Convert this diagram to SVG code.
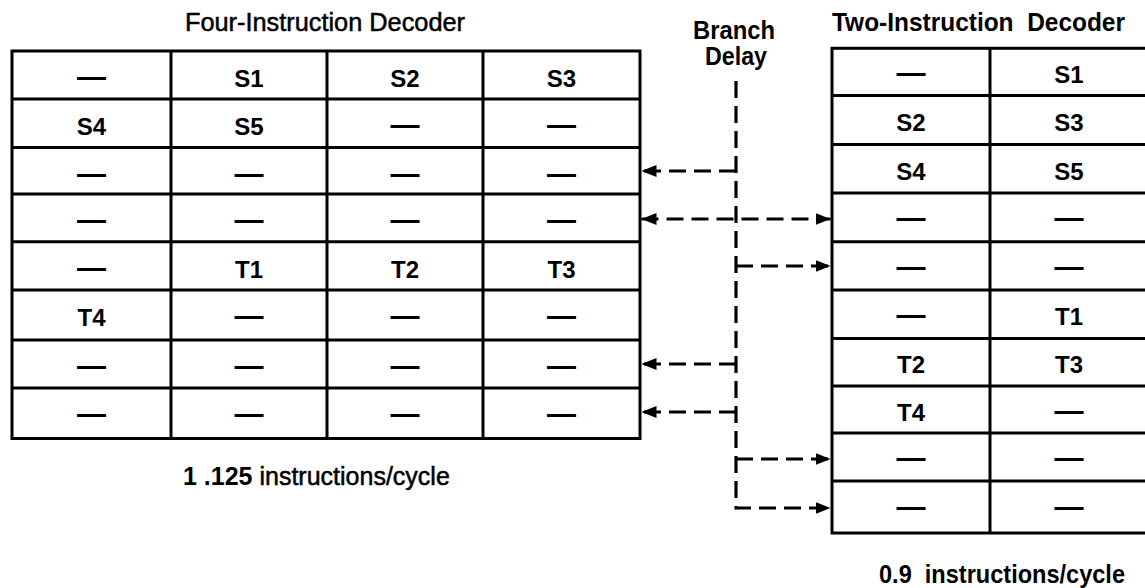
<svg xmlns="http://www.w3.org/2000/svg" width="1145" height="588" viewBox="0 0 1145 588">
  <style>
    .grid { fill: none; stroke: #000; stroke-width: 3; }
    .cell { font-family: "Liberation Sans", Arial, sans-serif; font-weight: bold; font-size: 24px; text-anchor: middle; fill: #000; }
    .nil { font-family: "Liberation Sans", Arial, sans-serif; font-weight: bold; font-size: 29px; text-anchor: middle; fill: #000; }
    .title { font-family: "Liberation Sans", Arial, sans-serif; font-size: 25px; fill: #000; stroke: #000; stroke-width: 0.5; white-space: pre; }
    .bold { font-weight: bold; stroke-width: 0; }
    .link { fill: none; stroke: #000; stroke-width: 3.2; stroke-dasharray: 17 8; }
  </style>
  <defs>
    <marker id="arrow" viewBox="0 0 15 12" refX="15" refY="6" markerWidth="15" markerHeight="12" markerUnits="userSpaceOnUse" orient="auto-start-reverse">
      <path d="M0,0 L15,6 L0,12 Z" fill="#000"/>
    </marker>
  </defs>
  <rect width="1145" height="588" fill="#fff"/>

  <!-- four-wide issue table: 4 slots per cycle, 8 cycles -->
  <g id="four-instruction-decoder">
    <text class="title" x="185" y="31" textLength="280" lengthAdjust="spacingAndGlyphs">Four-Instruction Decoder</text>
    <rect class="grid" x="12" y="51" width="628" height="387.5"/>
    <path class="grid" d="M171,51 V438.5 M327,51 V438.5 M483,51 V438.5
      M12,99 H640 M12,147.5 H640 M12,194 H640 M12,241.7 H640 M12,290 H640 M12,340 H640 M12,388 H640"/>
    <!-- row 1 -->
    <text class="nil" x="91.5" y="87">—</text>
    <text class="cell" x="249" y="87">S1</text>
    <text class="cell" x="405" y="87">S2</text>
    <text class="cell" x="561.5" y="87">S3</text>
    <!-- row 2 -->
    <text class="cell" x="91.5" y="135">S4</text>
    <text class="cell" x="249" y="135">S5</text>
    <text class="nil" x="405" y="135">—</text>
    <text class="nil" x="561.5" y="135">—</text>
    <!-- row 3 -->
    <text class="nil" x="91.5" y="183.5">—</text>
    <text class="nil" x="249" y="183.5">—</text>
    <text class="nil" x="405" y="183.5">—</text>
    <text class="nil" x="561.5" y="183.5">—</text>
    <!-- row 4 -->
    <text class="nil" x="91.5" y="230">—</text>
    <text class="nil" x="249" y="230">—</text>
    <text class="nil" x="405" y="230">—</text>
    <text class="nil" x="561.5" y="230">—</text>
    <!-- row 5 -->
    <text class="nil" x="91.5" y="277.7">—</text>
    <text class="cell" x="249" y="277.7">T1</text>
    <text class="cell" x="405" y="277.7">T2</text>
    <text class="cell" x="561.5" y="277.7">T3</text>
    <!-- row 6 -->
    <text class="cell" x="91.5" y="326">T4</text>
    <text class="nil" x="249" y="326">—</text>
    <text class="nil" x="405" y="326">—</text>
    <text class="nil" x="561.5" y="326">—</text>
    <!-- row 7 -->
    <text class="nil" x="91.5" y="376">—</text>
    <text class="nil" x="249" y="376">—</text>
    <text class="nil" x="405" y="376">—</text>
    <text class="nil" x="561.5" y="376">—</text>
    <!-- row 8 -->
    <text class="nil" x="91.5" y="424">—</text>
    <text class="nil" x="249" y="424">—</text>
    <text class="nil" x="405" y="424">—</text>
    <text class="nil" x="561.5" y="424">—</text>
    <text class="title" x="183" y="485"><tspan class="bold">1 .125</tspan> instructions/cycle</text>
  </g>

  <!-- branch delay label (two lines) -->
  <g id="branch-delay">
    <text class="title bold" x="734" y="38.5" text-anchor="middle" font-size="21" textLength="82" lengthAdjust="spacingAndGlyphs">Branch</text>
    <text class="title bold" x="736" y="64.5" text-anchor="middle" font-size="21" textLength="62" lengthAdjust="spacingAndGlyphs">Delay</text>
  </g>

  <!-- two-wide issue table: 2 slots per cycle, 10 cycles -->
  <g id="two-instruction-decoder">
    <text class="title bold" x="832" y="31" font-size="24" textLength="293" lengthAdjust="spacingAndGlyphs" xml:space="preserve">Two-Instruction  Decoder</text>
    <rect class="grid" x="832" y="48.3" width="316" height="484.7"/>
    <path class="grid" d="M990,48.3 V533
      M832,95.5 H1148 M832,144.5 H1148 M832,193 H1148 M832,241.7 H1148 M832,290 H1148
      M832,338.5 H1148 M832,386 H1148 M832,433 H1148 M832,481 H1148"/>
    <text class="nil" x="911" y="83">—</text>
    <text class="cell" x="1069" y="83">S1</text>
    <text class="cell" x="911" y="130.5">S2</text>
    <text class="cell" x="1069" y="130.5">S3</text>
    <text class="cell" x="911" y="179.5">S4</text>
    <text class="cell" x="1069" y="179.5">S5</text>
    <text class="nil" x="911" y="228">—</text>
    <text class="nil" x="1069" y="228">—</text>
    <text class="nil" x="911" y="276.7">—</text>
    <text class="nil" x="1069" y="276.7">—</text>
    <text class="nil" x="911" y="325">—</text>
    <text class="cell" x="1069" y="325">T1</text>
    <text class="cell" x="911" y="373">T2</text>
    <text class="cell" x="1069" y="373">T3</text>
    <text class="cell" x="911" y="421">T4</text>
    <text class="nil" x="1069" y="421">—</text>
    <text class="nil" x="911" y="468">—</text>
    <text class="nil" x="1069" y="468">—</text>
    <text class="nil" x="911" y="517">—</text>
    <text class="nil" x="1069" y="517">—</text>
    <text class="title bold" x="879" y="583" font-size="24.5" textLength="246" lengthAdjust="spacingAndGlyphs" xml:space="preserve">0.9  instructions/cycle</text>
  </g>

  <!-- branch-delay connectors -->
  <g id="connectors">
    <path class="link" d="M736,81 V508 H830.5" marker-end="url(#arrow)"/>
    <path class="link" d="M736,171 H641.5" marker-end="url(#arrow)"/>
    <path class="link" d="M641.5,219 H830.5" marker-start="url(#arrow)" marker-end="url(#arrow)"/>
    <path class="link" d="M736,266 H830.5" marker-end="url(#arrow)"/>
    <path class="link" d="M736,364 H641.5" marker-end="url(#arrow)"/>
    <path class="link" d="M736,412 H641.5" marker-end="url(#arrow)"/>
    <path class="link" d="M736,459 H830.5" marker-end="url(#arrow)"/>
  </g>
</svg>
